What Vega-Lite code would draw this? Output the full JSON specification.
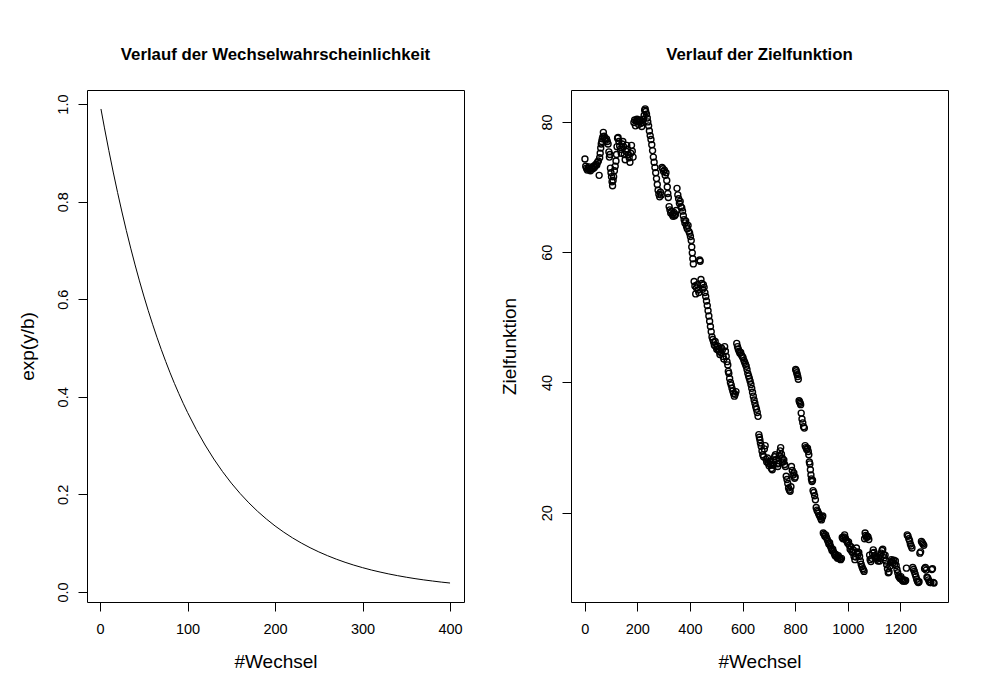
{
  "$schema": "https://vega.github.io/schema/vega-lite/v6.json",
  "background": "white",
  "padding": {"left": 17, "top": 46, "right": 10, "bottom": 10},
  "bounds": "flush",
  "spacing": 107,
  "config": {
    "font": "Liberation Sans",
    "view": {"stroke": "black", "strokeWidth": 1},
    "axis": {"domain": false, "grid": false, "tickColor": "black", "tickSize": 9, "tickWidth": 1,
      "labelColor": "black", "labelFont": "Liberation Sans", "labelFontSize": 14.5, "labelPadding": 6,
      "labelFlush": false, "labelOverlap": false,
      "titleFont": "Liberation Sans", "titleFontSize": 19, "titleFontWeight": "normal", "titleColor": "black"},
    "axisX": {"labelPadding": 11, "titlePadding": 17, "format": "d"},
    "axisY": {"labelAngle": -90, "labelAlign": "center", "labelBaseline": "bottom", "labelPadding": 8, "titlePadding": 18},
    "title": {"font": "Liberation Sans", "fontSize": 16.8, "fontWeight": "bold", "color": "black", "anchor": "middle", "frame": "group", "offset": 26}
  },
  "datasets": {
    "decay": [
      {"w":1,"p":0.9900},{"w":5,"p":0.9512},{"w":10,"p":0.9048},{"w":15,"p":0.8607},{"w":20,"p":0.8187},{"w":25,"p":0.7788},{"w":30,"p":0.7408},{"w":35,"p":0.7047},{"w":40,"p":0.6703},{"w":45,"p":0.6376},{"w":50,"p":0.6065},{"w":55,"p":0.5769},{"w":60,"p":0.5488},{"w":65,"p":0.5220},{"w":70,"p":0.4966},{"w":75,"p":0.4724},{"w":80,"p":0.4493},{"w":85,"p":0.4274},{"w":90,"p":0.4066},{"w":95,"p":0.3867},{"w":100,"p":0.3679},{"w":110,"p":0.3329},{"w":120,"p":0.3012},{"w":130,"p":0.2725},{"w":140,"p":0.2466},{"w":150,"p":0.2231},{"w":160,"p":0.2019},{"w":170,"p":0.1827},{"w":180,"p":0.1653},{"w":190,"p":0.1496},{"w":200,"p":0.1353},{"w":210,"p":0.1225},{"w":220,"p":0.1108},{"w":230,"p":0.1003},{"w":240,"p":0.0907},{"w":250,"p":0.0821},{"w":260,"p":0.0743},{"w":270,"p":0.0672},{"w":280,"p":0.0608},{"w":290,"p":0.0550},{"w":300,"p":0.0498},{"w":310,"p":0.0450},{"w":320,"p":0.0408},{"w":330,"p":0.0369},{"w":340,"p":0.0334},{"w":350,"p":0.0302},{"w":360,"p":0.0273},{"w":370,"p":0.0247},{"w":380,"p":0.0224},{"w":390,"p":0.0202},{"w":400,"p":0.0183}
    ],
    "ziel": [
      {"w":1,"z":74.3},{"w":4,"z":73.2},{"w":7,"z":72.9},{"w":10,"z":72.6},{"w":13,"z":72.8},{"w":16,"z":73.1},{"w":19,"z":72.7},{"w":22,"z":72.5},{"w":25,"z":72.9},{"w":28,"z":73.0},{"w":31,"z":72.8},{"w":34,"z":73.2},{"w":37,"z":73.0},{"w":40,"z":73.3},{"w":43,"z":73.5},{"w":46,"z":73.4},{"w":49,"z":73.8},{"w":52,"z":74.0},{"w":55,"z":71.8},
      {"w":57,"z":74.5},{"w":59,"z":75.2},{"w":61,"z":76.0},{"w":63,"z":76.6},{"w":65,"z":77.0},{"w":67,"z":77.4},{"w":69,"z":77.7},{"w":71,"z":78.4},{"w":74,"z":77.8},{"w":77,"z":77.5},{"w":80,"z":77.2},{"w":83,"z":77.4},{"w":86,"z":77.0},{"w":89,"z":76.6},{"w":92,"z":75.4},{"w":94,"z":74.6},{"w":96,"z":75.0},
      {"w":98,"z":72.9},{"w":100,"z":72.2},{"w":102,"z":71.6},{"w":104,"z":70.8},{"w":106,"z":70.2},{"w":108,"z":71.0},{"w":110,"z":71.6},{"w":113,"z":72.5},{"w":116,"z":73.2},{"w":119,"z":74.0},{"w":121,"z":75.0},{"w":123,"z":76.2},{"w":125,"z":77.5},{"w":127,"z":77.6},
      {"w":130,"z":77.0},{"w":133,"z":76.3},{"w":136,"z":75.8},{"w":139,"z":75.2},{"w":142,"z":76.6},{"w":145,"z":77.0},{"w":148,"z":76.2},{"w":151,"z":75.0},{"w":154,"z":74.2},{"w":157,"z":75.5},{"w":160,"z":76.4},{"w":163,"z":75.8},{"w":166,"z":75.0},{"w":169,"z":74.5},{"w":172,"z":73.8},{"w":175,"z":75.2},{"w":178,"z":76.4},{"w":181,"z":75.5},{"w":184,"z":74.6},
      {"w":187,"z":79.9},{"w":190,"z":80.3},{"w":193,"z":79.4},{"w":196,"z":80.1},{"w":199,"z":80.4},{"w":202,"z":80.0},{"w":205,"z":79.6},{"w":208,"z":80.2},{"w":211,"z":80.3},{"w":214,"z":79.8},{"w":217,"z":79.3},{"w":220,"z":79.9},{"w":223,"z":80.4},{"w":226,"z":81.0},{"w":228,"z":81.8},{"w":230,"z":82.0},{"w":232,"z":81.6},{"w":235,"z":81.2},{"w":238,"z":80.6},{"w":240,"z":80.0},
      {"w":243,"z":79.4},{"w":246,"z":78.6},{"w":249,"z":77.9},{"w":252,"z":77.3},{"w":255,"z":76.5},{"w":258,"z":75.6},{"w":261,"z":74.6},{"w":264,"z":73.8},{"w":267,"z":73.0},{"w":270,"z":72.2},{"w":273,"z":71.3},{"w":276,"z":70.4},{"w":279,"z":69.5},{"w":282,"z":68.9},{"w":285,"z":68.5},{"w":288,"z":69.2},{"w":291,"z":68.8},
      {"w":294,"z":73.0},{"w":297,"z":72.8},{"w":300,"z":72.4},{"w":303,"z":72.6},{"w":306,"z":71.8},{"w":309,"z":72.2},{"w":312,"z":71.0},{"w":314,"z":70.0},{"w":316,"z":69.0},{"w":318,"z":68.4},
      {"w":321,"z":67.0},{"w":324,"z":66.5},{"w":327,"z":66.0},{"w":330,"z":66.3},{"w":333,"z":65.8},{"w":336,"z":65.5},{"w":339,"z":66.1},{"w":342,"z":65.6},{"w":345,"z":65.8},{"w":348,"z":66.4},{"w":351,"z":69.8},{"w":354,"z":68.8},{"w":357,"z":68.2},{"w":360,"z":67.5},{"w":363,"z":67.8},{"w":366,"z":67.0},{"w":369,"z":66.8},{"w":372,"z":66.3},{"w":375,"z":65.6},{"w":378,"z":65.0},{"w":381,"z":64.5},{"w":384,"z":64.8},{"w":387,"z":64.0},{"w":390,"z":63.6},{"w":393,"z":64.1},{"w":396,"z":63.2},{"w":399,"z":62.9},{"w":402,"z":62.4},{"w":405,"z":61.8},{"w":407,"z":60.8},{"w":409,"z":59.9},{"w":411,"z":59.0},{"w":413,"z":58.2},
      {"w":416,"z":55.5},{"w":419,"z":54.8},{"w":422,"z":53.6},{"w":425,"z":54.5},{"w":428,"z":55.0},{"w":431,"z":54.2},{"w":434,"z":53.8},{"w":437,"z":58.8},{"w":439,"z":58.6},{"w":442,"z":55.8},{"w":445,"z":55.2},{"w":448,"z":54.3},{"w":451,"z":55.0},{"w":454,"z":54.6},{"w":457,"z":53.8},{"w":460,"z":53.2},{"w":463,"z":52.5},{"w":466,"z":51.8},{"w":469,"z":51.0},{"w":472,"z":50.2},{"w":475,"z":49.4},{"w":478,"z":48.6},{"w":481,"z":47.8},{"w":484,"z":47.0},{"w":487,"z":46.6},{"w":490,"z":46.2},{"w":493,"z":45.7},{"w":496,"z":46.3},{"w":499,"z":45.5},{"w":502,"z":45.1},{"w":505,"z":45.6},{"w":508,"z":45.0},{"w":511,"z":44.8},{"w":514,"z":44.3},{"w":517,"z":44.6},{"w":520,"z":45.3},{"w":523,"z":45.0},{"w":526,"z":44.0},{"w":529,"z":43.6},{"w":532,"z":45.5},{"w":535,"z":44.8},{"w":538,"z":44.0},{"w":541,"z":43.2},{"w":544,"z":42.7},{"w":546,"z":41.7},{"w":548,"z":41.4},{"w":551,"z":40.6},{"w":554,"z":40.0},{"w":557,"z":39.6},{"w":560,"z":39.1},{"w":563,"z":38.7},{"w":566,"z":38.3},{"w":569,"z":37.9},{"w":572,"z":38.2},{"w":575,"z":38.6},
      {"w":578,"z":46.0},{"w":581,"z":45.5},{"w":584,"z":45.1},{"w":587,"z":44.8},{"w":590,"z":44.5},{"w":593,"z":44.6},{"w":596,"z":44.2},{"w":599,"z":44.0},{"w":602,"z":43.8},{"w":605,"z":43.4},{"w":608,"z":43.1},{"w":611,"z":42.8},{"w":614,"z":42.5},{"w":617,"z":42.0},{"w":620,"z":41.4},{"w":623,"z":41.0},{"w":626,"z":40.6},{"w":629,"z":40.2},{"w":632,"z":39.7},{"w":635,"z":39.1},{"w":638,"z":38.5},{"w":641,"z":37.9},{"w":644,"z":37.3},{"w":647,"z":36.8},{"w":650,"z":36.3},{"w":653,"z":35.9},{"w":656,"z":35.4},{"w":659,"z":34.8},
      {"w":662,"z":32.0},{"w":664,"z":31.6},{"w":666,"z":31.2},{"w":668,"z":30.7},{"w":671,"z":30.2},{"w":674,"z":29.5},{"w":677,"z":28.9},{"w":680,"z":28.6},{"w":683,"z":29.8},{"w":686,"z":30.3},{"w":689,"z":28.2},{"w":692,"z":27.8},{"w":695,"z":28.4},{"w":698,"z":27.6},{"w":701,"z":27.2},{"w":704,"z":27.9},{"w":707,"z":27.4},{"w":710,"z":26.8},{"w":713,"z":26.6},{"w":716,"z":27.3},{"w":719,"z":28.0},{"w":722,"z":28.6},{"w":725,"z":28.9},{"w":728,"z":28.2},{"w":731,"z":27.5},{"w":734,"z":27.1},{"w":737,"z":27.6},{"w":740,"z":28.8},{"w":743,"z":29.5},{"w":745,"z":30.0},{"w":748,"z":29.0},{"w":751,"z":28.4},{"w":754,"z":27.8},{"w":757,"z":28.1},{"w":760,"z":27.4},{"w":763,"z":27.1},{"w":766,"z":25.6},{"w":769,"z":25.1},{"w":772,"z":24.5},{"w":775,"z":23.8},{"w":778,"z":23.5},{"w":781,"z":23.3},{"w":784,"z":24.0},{"w":786,"z":27.1},{"w":789,"z":26.5},{"w":792,"z":25.8},{"w":795,"z":26.1},{"w":798,"z":25.3},{"w":800,"z":25.5},
      {"w":802,"z":42.0},{"w":804,"z":41.8},{"w":806,"z":41.5},{"w":808,"z":41.2},{"w":810,"z":40.9},{"w":812,"z":40.5},{"w":815,"z":37.2},{"w":817,"z":37.0},{"w":819,"z":36.8},{"w":821,"z":36.6},{"w":823,"z":35.3},{"w":826,"z":34.4},{"w":829,"z":33.8},{"w":832,"z":33.2},{"w":835,"z":33.0},{"w":838,"z":30.3},{"w":841,"z":30.0},{"w":844,"z":29.7},{"w":847,"z":29.9},{"w":850,"z":29.4},{"w":852,"z":28.9},{"w":854,"z":27.8},{"w":856,"z":27.5},{"w":858,"z":26.6},{"w":860,"z":25.8},{"w":862,"z":25.2},{"w":864,"z":24.8},{"w":866,"z":25.0},{"w":868,"z":23.4},{"w":871,"z":23.1},{"w":874,"z":22.6},{"w":877,"z":22.0},{"w":880,"z":20.8},{"w":883,"z":20.4},{"w":886,"z":20.2},{"w":889,"z":19.9},{"w":892,"z":19.6},{"w":895,"z":19.4},{"w":898,"z":19.1},{"w":900,"z":18.9},{"w":903,"z":19.3},{"w":905,"z":19.5},
      {"w":907,"z":16.9},{"w":910,"z":16.7},{"w":913,"z":16.4},{"w":916,"z":16.6},{"w":919,"z":16.2},{"w":922,"z":15.9},{"w":925,"z":15.6},{"w":928,"z":15.2},{"w":931,"z":15.4},{"w":934,"z":14.9},{"w":937,"z":14.6},{"w":940,"z":14.2},{"w":943,"z":14.4},{"w":946,"z":14.0},{"w":949,"z":13.7},{"w":952,"z":13.4},{"w":955,"z":13.6},{"w":958,"z":13.2},{"w":961,"z":13.0},{"w":964,"z":13.4},{"w":967,"z":13.1},{"w":970,"z":12.9},{"w":973,"z":12.8},{"w":976,"z":13.0},
      {"w":979,"z":16.2},{"w":982,"z":16.0},{"w":985,"z":16.3},{"w":988,"z":16.6},{"w":991,"z":16.1},{"w":994,"z":15.8},{"w":997,"z":15.6},{"w":1000,"z":15.3},{"w":1003,"z":15.5},{"w":1006,"z":15.0},{"w":1009,"z":14.4},{"w":1012,"z":14.8},{"w":1015,"z":14.1},{"w":1018,"z":13.9},{"w":1021,"z":14.3},{"w":1024,"z":13.3},{"w":1027,"z":12.8},{"w":1030,"z":13.2},{"w":1033,"z":14.6},{"w":1036,"z":14.0},{"w":1039,"z":13.6},{"w":1042,"z":13.9},{"w":1045,"z":13.3},{"w":1048,"z":12.6},{"w":1051,"z":12.1},{"w":1054,"z":11.7},{"w":1057,"z":11.4},{"w":1060,"z":11.2},{"w":1062,"z":11.0},
      {"w":1064,"z":16.0},{"w":1066,"z":16.9},{"w":1068,"z":16.5},{"w":1071,"z":16.2},{"w":1074,"z":16.4},{"w":1077,"z":16.3},{"w":1080,"z":15.9},
      {"w":1083,"z":13.5},{"w":1085,"z":12.8},{"w":1088,"z":12.5},{"w":1091,"z":13.0},{"w":1094,"z":13.8},{"w":1097,"z":14.3},{"w":1100,"z":13.9},{"w":1103,"z":13.4},{"w":1106,"z":13.1},{"w":1109,"z":13.3},{"w":1112,"z":12.9},{"w":1115,"z":12.6},{"w":1118,"z":13.2},{"w":1121,"z":12.6},{"w":1124,"z":13.0},{"w":1127,"z":13.8},{"w":1130,"z":14.2},{"w":1133,"z":14.4},{"w":1136,"z":13.6},{"w":1139,"z":13.1},{"w":1142,"z":13.5},{"w":1145,"z":12.6},{"w":1148,"z":12.0},{"w":1151,"z":11.4},{"w":1154,"z":10.8},{"w":1157,"z":10.9},{"w":1160,"z":11.8},{"w":1163,"z":12.4},{"w":1166,"z":12.8},{"w":1169,"z":12.6},{"w":1172,"z":12.3},{"w":1175,"z":12.7},{"w":1178,"z":12.1},{"w":1181,"z":12.6},{"w":1184,"z":11.9},{"w":1187,"z":11.3},{"w":1190,"z":10.8},{"w":1193,"z":10.3},{"w":1196,"z":10.1},{"w":1199,"z":9.9},{"w":1202,"z":10.2},{"w":1205,"z":9.8},{"w":1208,"z":9.6},{"w":1211,"z":9.5},{"w":1214,"z":9.7},{"w":1217,"z":9.5},{"w":1220,"z":9.6},{"w":1223,"z":11.5},
      {"w":1226,"z":16.6},{"w":1229,"z":16.4},{"w":1232,"z":16.0},{"w":1235,"z":15.7},{"w":1238,"z":15.2},{"w":1241,"z":14.9},{"w":1244,"z":14.6},{"w":1247,"z":11.6},{"w":1250,"z":11.3},{"w":1253,"z":11.0},{"w":1256,"z":10.6},{"w":1259,"z":10.2},{"w":1262,"z":9.8},{"w":1265,"z":9.5},{"w":1268,"z":9.3},{"w":1271,"z":9.4},{"w":1274,"z":13.8},{"w":1277,"z":14.0},{"w":1280,"z":15.6},{"w":1283,"z":15.4},{"w":1286,"z":15.2},{"w":1289,"z":15.0},{"w":1292,"z":11.4},{"w":1295,"z":11.6},{"w":1298,"z":11.2},{"w":1301,"z":10.1},{"w":1304,"z":10.0},{"w":1307,"z":9.7},{"w":1310,"z":9.4},{"w":1313,"z":9.3},{"w":1316,"z":9.3},{"w":1319,"z":11.3},{"w":1322,"z":11.4},{"w":1325,"z":9.3},{"w":1328,"z":9.2}
    ]
  },
  "hconcat": [
    {
      "title": "Verlauf der Wechselwahrscheinlichkeit",
      "width": 377,
      "height": 512,
      "data": {"name": "decay"},
      "mark": {"type": "line", "color": "black", "strokeWidth": 1},
      "encoding": {
        "x": {"field": "w", "type": "quantitative", "title": "#Wechsel",
          "scale": {"domain": [-14.96, 415.96], "nice": false, "zero": false},
          "axis": {"values": [0, 100, 200, 300, 400]}},
        "y": {"field": "p", "type": "quantitative", "title": "exp(y/b)",
          "scale": {"domain": [-0.0206, 1.0289], "nice": false, "zero": false},
          "axis": {"values": [0, 0.2, 0.4, 0.6, 0.8, 1.0], "format": ".1f", "titlePadding": 18}}
      }
    },
    {
      "title": "Verlauf der Zielfunktion",
      "width": 377,
      "height": 512,
      "data": {"name": "ziel"},
      "mark": {"type": "point", "shape": "circle", "filled": false, "stroke": "black", "strokeWidth": 1.4, "size": 36, "opacity": 1},
      "encoding": {
        "x": {"field": "w", "type": "quantitative", "title": "#Wechsel",
          "scale": {"domain": [-52, 1381], "nice": false, "zero": false},
          "axis": {"values": [0, 200, 400, 600, 800, 1000, 1200]}},
        "y": {"field": "z", "type": "quantitative", "title": "Zielfunktion",
          "scale": {"domain": [6.3, 84.9], "nice": false, "zero": false},
          "axis": {"values": [20, 40, 60, 80], "titlePadding": 20}}
      }
    }
  ]
}
